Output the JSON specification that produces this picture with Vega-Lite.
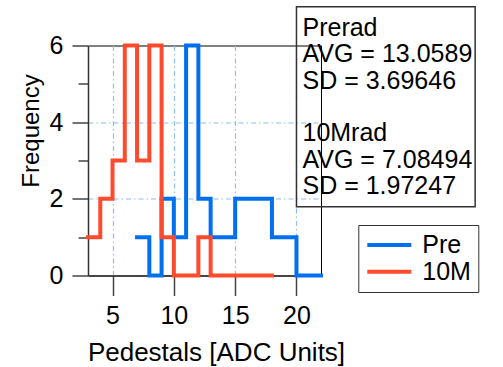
{
  "$schema": "https://vega.github.io/schema/vega-lite/v6.json",
  "width": 233,
  "height": 230,
  "autosize": {"type": "none"},
  "padding": {"left": 88, "top": 45.5, "right": 182, "bottom": 91.5},
  "background": "white",
  "config": {
    "font": "Liberation Sans",
    "view": {"stroke": "#000", "strokeWidth": 1},
    "axis": {
      "labelFont": "Liberation Sans",
      "labelFontSize": 25,
      "labelColor": "#000",
      "labelFlush": false,
      "titleFont": "Liberation Sans",
      "titleFontWeight": "normal",
      "titleColor": "#000",
      "domainColor": "#333",
      "domainWidth": 1.5,
      "tickColor": "#444",
      "tickWidth": 1.5,
      "gridColor": "#8fbdf5",
      "gridDash": [5, 3, 1.5, 3],
      "gridWidth": 1.2,
      "gridOpacity": 1
    }
  },
  "datasets": {
    "hist": [
      {"sample": "Pre", "edge": 7, "count": 1},
      {"sample": "Pre", "edge": 8, "count": 0},
      {"sample": "Pre", "edge": 9, "count": 2},
      {"sample": "Pre", "edge": 10, "count": 1},
      {"sample": "Pre", "edge": 11, "count": 6},
      {"sample": "Pre", "edge": 12, "count": 2},
      {"sample": "Pre", "edge": 13, "count": 1},
      {"sample": "Pre", "edge": 14, "count": 1},
      {"sample": "Pre", "edge": 15, "count": 2},
      {"sample": "Pre", "edge": 16, "count": 2},
      {"sample": "Pre", "edge": 17, "count": 2},
      {"sample": "Pre", "edge": 18, "count": 1},
      {"sample": "Pre", "edge": 19, "count": 1},
      {"sample": "Pre", "edge": 20, "count": 0},
      {"sample": "Pre", "edge": 21, "count": 0},
      {"sample": "Pre", "edge": 22, "count": 0},
      {"sample": "10M", "edge": 3, "count": 1},
      {"sample": "10M", "edge": 4, "count": 2},
      {"sample": "10M", "edge": 5, "count": 3},
      {"sample": "10M", "edge": 6, "count": 6},
      {"sample": "10M", "edge": 7, "count": 3},
      {"sample": "10M", "edge": 8, "count": 6},
      {"sample": "10M", "edge": 9, "count": 1},
      {"sample": "10M", "edge": 10, "count": 0},
      {"sample": "10M", "edge": 11, "count": 0},
      {"sample": "10M", "edge": 12, "count": 1},
      {"sample": "10M", "edge": 13, "count": 0},
      {"sample": "10M", "edge": 14, "count": 0},
      {"sample": "10M", "edge": 15, "count": 0},
      {"sample": "10M", "edge": 16, "count": 0},
      {"sample": "10M", "edge": 17, "count": 0},
      {"sample": "10M", "edge": 18, "count": 0}
    ]
  },
  "resolve": {"axis": {"y": "independent"}},
  "layer": [
    {
      "data": {"name": "hist"},
      "mark": {"type": "line", "interpolate": "step-after", "strokeWidth": 4, "strokeJoin": "miter", "strokeCap": "square"},
      "encoding": {
        "x": {
          "field": "edge",
          "type": "quantitative",
          "scale": {"domain": [3, 22], "nice": false, "zero": false},
          "axis": {
            "values": [5, 10, 15, 20],
            "tickSize": 20,
            "labelPadding": 8,
            "grid": true,
            "title": "Pedestals [ADC Units]",
            "titleFontSize": 26,
            "titleX": 128,
            "titleY": 84.5,
            "titleBaseline": "alphabetic",
            "titleAlign": "center"
          }
        },
        "y": {
          "field": "count",
          "type": "quantitative",
          "scale": {"domain": [0, 6], "nice": false},
          "axis": {
            "orient": "left",
            "values": [0, 2, 4, 6],
            "tickSize": 16,
            "labelPadding": 9,
            "grid": false,
            "title": "Frequency",
            "titleFontSize": 24,
            "titleAngle": 270,
            "titleX": -49.7,
            "titleY": 85,
            "titleBaseline": "alphabetic",
            "titleAlign": "center"
          }
        },
        "color": {
          "field": "sample",
          "type": "nominal",
          "scale": {"domain": ["Pre", "10M"], "range": ["#0070f0", "#ff4b2d"]},
          "legend": {
            "orient": "none",
            "legendX": 270.3,
            "legendY": 179.5,
            "title": null,
            "padding": 7,
            "strokeColor": "#333",
            "fillColor": "#fff",
            "symbolType": "M-2,0H2",
            "symbolSize": 484,
            "symbolOffset": 11,
            "symbolStrokeWidth": 4,
            "labelFont": "Liberation Sans",
            "labelFontSize": 25,
            "labelColor": "#000",
            "labelOffset": 20,
            "rowPadding": 0.7
          }
        }
      }
    },
    {
      "data": {"values": [{}]},
      "mark": {"type": "rect", "fill": null, "fillOpacity": 0, "stroke": "#333", "strokeWidth": 1.5},
      "encoding": {
        "x": {"datum": 20, "type": "quantitative", "scale": {"domain": [3, 22], "nice": false, "zero": false}},
        "x2": {"datum": 34.57},
        "y": {
          "datum": 7.01,
          "type": "quantitative",
          "scale": {"domain": [0, 6], "nice": false},
          "axis": {"orient": "left", "values": [2, 4], "grid": true, "ticks": false, "labels": false, "domain": false, "title": null}
        },
        "y2": {"datum": 1.795}
      }
    },
    {
      "data": {"values": [{}]},
      "mark": {"type": "text", "align": "left", "baseline": "alphabetic", "font": "Liberation Sans", "fontSize": 25, "lineHeight": 26.4, "color": "#000"},
      "encoding": {
        "x": {"datum": 20.49, "type": "quantitative", "scale": {"domain": [3, 22], "nice": false, "zero": false}},
        "y": {
          "datum": 6.25,
          "type": "quantitative",
          "scale": {"domain": [0, 6], "nice": false},
          "axis": {"orient": "left", "values": [1, 3, 5], "tickSize": 10, "grid": false, "labels": false, "domain": false, "title": null}
        },
        "text": {"value": ["Prerad", "AVG = 13.0589", "SD = 3.69646"]}
      }
    },
    {
      "data": {"values": [{}]},
      "mark": {"type": "text", "align": "left", "baseline": "alphabetic", "font": "Liberation Sans", "fontSize": 25, "lineHeight": 26.4, "color": "#000"},
      "encoding": {
        "x": {"datum": 20.49, "type": "quantitative", "scale": {"domain": [3, 22], "nice": false, "zero": false}},
        "y": {
          "datum": 3.5,
          "type": "quantitative",
          "scale": {"domain": [0, 6], "nice": false},
          "axis": null
        },
        "text": {"value": ["10Mrad", "AVG = 7.08494", "SD = 1.97247"]}
      }
    }
  ]
}
